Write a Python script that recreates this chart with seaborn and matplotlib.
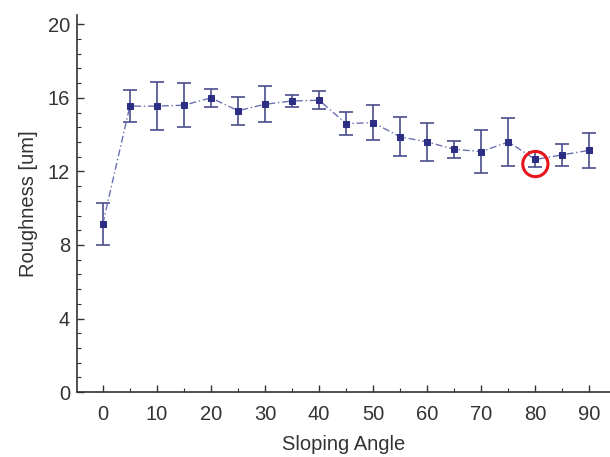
import matplotlib
matplotlib.use("Agg")
import matplotlib.pyplot as plt
from matplotlib.ticker import MultipleLocator
import seaborn as sns
import pandas as pd

# Surface roughness versus sloping angle (mean and standard deviation)
angles = [0, 5, 10, 15, 20, 25, 30, 35, 40, 45, 50, 55, 60, 65, 70, 75, 80, 85, 90]
roughness = [9.15, 15.55, 15.55, 15.6, 16.0, 15.3, 15.65, 15.83, 15.87, 14.6,
             14.65, 13.88, 13.6, 13.2, 13.08, 13.6, 12.65, 12.9, 13.15]
roughness_err = [1.15, 0.85, 1.3, 1.2, 0.48, 0.75, 0.97, 0.35, 0.48, 0.63,
                 0.94, 1.06, 1.03, 0.48, 1.18, 1.3, 0.42, 0.58, 0.95]
x_ticks = [0, 10, 20, 30, 40, 50, 60, 70, 80, 90]
y_ticks = [0, 4, 8, 12, 16, 20]
highlight_angle = 80
highlight_value = 12.65

df = pd.DataFrame({"Sloping Angle": angles, "Roughness [um]": roughness})

sns.set_style("ticks")
plt.rcParams["font.family"] = ["Liberation Sans", "DejaVu Sans"]

fig = plt.figure(figsize=(6.1, 4.57), dpi=100)
ax = fig.add_axes([0.126, 0.142, 0.874, 0.825])

ax.errorbar(angles, roughness, yerr=roughness_err, fmt="none",
            ecolor="#4a4e8c", elinewidth=1.2, capsize=5, capthick=1.2, zorder=2)
sns.lineplot(data=df, x="Sloping Angle", y="Roughness [um]", ax=ax,
             color="#6b70b3", linewidth=1.0, linestyle=(0, (5, 2, 1, 2)),
             marker="s", markersize=4.5, markerfacecolor="#2b2e83",
             markeredgecolor="#2b2e83", zorder=3)

ax.scatter([highlight_angle], [highlight_value - 0.25], s=330, facecolors="none",
           edgecolors="#e8141c", linewidths=2.2, zorder=4)

ax.set_xlim(-4.8, 93.8)
ax.set_ylim(0, 20.5)
ax.set_xticks(x_ticks)
ax.set_yticks(y_ticks)
ax.xaxis.set_minor_locator(MultipleLocator(5))
ax.yaxis.set_minor_locator(MultipleLocator(0.8))
ax.tick_params(which="major", direction="in", length=5, width=1.0,
               colors="#333333", labelsize=14.5)
ax.tick_params(axis="x", which="major", pad=9)
ax.tick_params(axis="y", which="major", pad=5)
ax.tick_params(which="minor", direction="in", length=3, width=0.8, colors="#333333")

sns.despine(ax=ax, top=True, right=True)
for side in ("left", "bottom"):
    ax.spines[side].set_color("#333333")
    ax.spines[side].set_linewidth(1.2)

ax.set_xlabel("Sloping Angle", fontsize=14.5, color="#333333", labelpad=8)
ax.set_ylabel("Roughness [um]", fontsize=14.5, color="#333333", labelpad=7)

fig.savefig("out.png", dpi=100)
